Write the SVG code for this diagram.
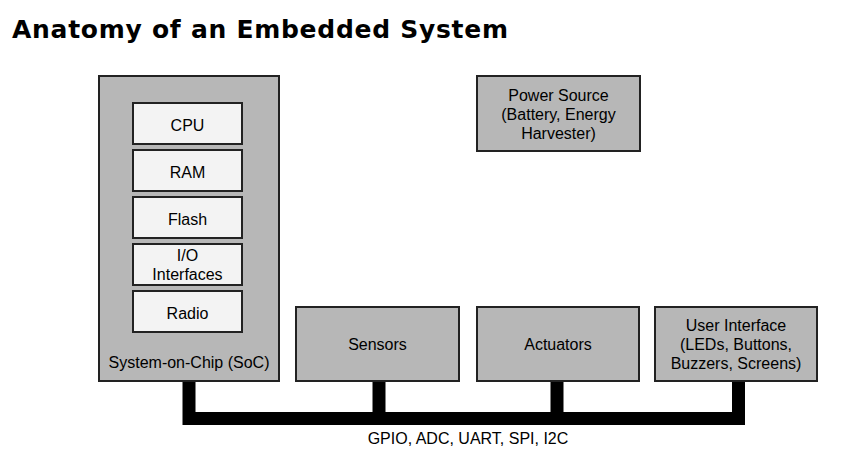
<svg xmlns="http://www.w3.org/2000/svg" width="848" height="463" viewBox="0 0 848 463">
<style>
.box{fill:#b7b7b7;stroke:#222;stroke-width:2}
.inner{fill:#f3f3f3;stroke:#222;stroke-width:2}
.t{font-family:"Liberation Sans",Arial,sans-serif;font-size:16px;fill:#000;text-anchor:middle}
.title{font-family:"DejaVu Sans",Verdana,sans-serif;font-weight:bold;font-size:25px;fill:#000}
.bus{fill:none;stroke:#000;stroke-width:13;stroke-linejoin:miter}
</style>
<rect width="848" height="463" fill="#fff"/>
<text class="title" x="12" y="38" textLength="496" lengthAdjust="spacing">Anatomy of an Embedded System</text>
<g id="connectors">
<path class="bus" d="M189,381 V418.5 H738.5 V381"/>
<path class="bus" d="M379,381 V418.5"/>
<path class="bus" d="M557,381 V418.5"/>
<text class="t" x="468" y="444">GPIO, ADC, UART, SPI, I2C</text>
</g>
<g id="soc">
<rect class="box" x="99" y="76" width="180" height="305"/>
<text class="t" x="189" y="368">System-on-Chip (SoC)</text>
</g>
<g id="cpu">
<rect class="inner" x="133" y="103" width="109" height="41"/>
<text class="t" x="187.5" y="130.5">CPU</text>
</g>
<g id="ram">
<rect class="inner" x="133" y="150" width="109" height="41"/>
<text class="t" x="187.5" y="177.5">RAM</text>
</g>
<g id="flash">
<rect class="inner" x="133" y="197" width="109" height="41"/>
<text class="t" x="187.5" y="224.5">Flash</text>
</g>
<g id="io">
<rect class="inner" x="133" y="244" width="109" height="41"/>
<text class="t" x="187.5" y="261">I/O</text>
<text class="t" x="187.5" y="280">Interfaces</text>
</g>
<g id="radio">
<rect class="inner" x="133" y="291" width="109" height="41"/>
<text class="t" x="187.5" y="318.5">Radio</text>
</g>
<g id="power">
<rect class="box" x="477" y="76" width="163" height="75"/>
<text class="t" x="558.5" y="101">Power Source</text>
<text class="t" x="558.5" y="120">(Battery, Energy</text>
<text class="t" x="558.5" y="139">Harvester)</text>
</g>
<g id="sensors">
<rect class="box" x="296" y="307" width="163" height="74"/>
<text class="t" x="377.5" y="350">Sensors</text>
</g>
<g id="actuators">
<rect class="box" x="477" y="307" width="162" height="74"/>
<text class="t" x="558" y="350">Actuators</text>
</g>
<g id="ui">
<rect class="box" x="655" y="307" width="162" height="74"/>
<text class="t" x="736" y="331">User Interface</text>
<text class="t" x="736" y="350">(LEDs, Buttons,</text>
<text class="t" x="736" y="369">Buzzers, Screens)</text>
</g>
</svg>
